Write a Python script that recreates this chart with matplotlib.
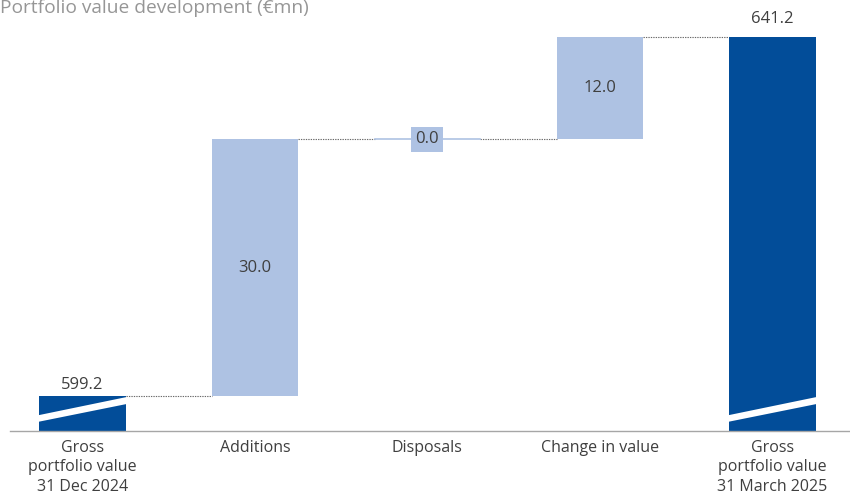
import matplotlib
matplotlib.use("Agg")
import matplotlib.pyplot as plt
from matplotlib.patches import Polygon
import matplotlib.transforms as mtransforms

plt.rcParams['font.family'] = ['Open Sans', 'DejaVu Sans']

categories = ["Gross\nportfolio value\n31 Dec 2024", "Additions", "Disposals",
              "Change in value", "Gross\nportfolio value\n31 March 2025"]
values = [599.2, 30.0, 0.0, 12.0, 641.2]
kinds = ["total", "delta", "delta", "delta", "total"]
labels = ["599.2", "30.0", "0.0", "12.0", "641.2"]
title = "Portfolio value development (€mn)"

DARK = "#024D99"
LIGHT = "#AEC2E3"
TXT = "#3F3F3F"

fig = plt.figure(figsize=(8.5, 4.94), dpi=100)
ax = fig.add_axes([10 / 850, 63 / 494, 840 / 850, 411 / 494])
ymin = 595.1
ax.set_ylim(ymin, ymin + 411 / 8.55)
ax.set_xlim(-0.42, 4.45)

w = 0.5
running = 0.0
tops = []
n = len(values)
for i, (v, k) in enumerate(zip(values, kinds)):
    if k == "total":
        ax.bar(i, v - ymin, bottom=ymin, width=w, color=DARK, zorder=2)
        running = v
        tops.append((running, running))
        off = 10 if i == n - 1 else 5
        ax.annotate(labels[i], (i, v), xytext=(0, off), textcoords="offset points",
                    ha="center", va="baseline", fontsize=12, color=TXT)
    else:
        start = running
        running = running + v
        tops.append((start, running))
        if v == 0:
            ax.plot([i - 0.305, i + 0.305], [start, start], color=LIGHT, lw=1.2, zorder=2)
            ax.text(i, start, labels[i], ha="center", va="center", fontsize=12, color=TXT,
                    bbox=dict(boxstyle="square,pad=0.25", fc=LIGHT, ec="none"), zorder=3)
        else:
            ax.bar(i, v, bottom=start, width=w, color=LIGHT, zorder=2)
            ax.text(i, start + v / 2, labels[i], ha="center", va="center",
                    fontsize=12, color=TXT, zorder=3)

# connectors
for i in range(n - 1):
    level = tops[i][1]
    x0 = i + (0.305 if values[i] == 0 and kinds[i] == "delta" else w / 2)
    x1 = i + 1 - (0.305 if values[i + 1] == 0 and kinds[i + 1] == "delta" else w / 2)
    ax.plot([x0, x1], [level, level], color="#6a6a6a", lw=0.8,
            linestyle=(0, (1.2, 1.0)), zorder=1)

# axis break stripes on total bars
trans = mtransforms.blended_transform_factory(ax.transData, ax.transAxes)
for i, k in enumerate(kinds):
    if k == "total":
        l, r = i - w / 2, i + w / 2
        poly = Polygon([(l - 0.01, 0.022), (l - 0.01, 0.038), (r + 0.01, 0.083), (r + 0.01, 0.066)],
                       closed=True, transform=trans, fc="white", ec="none", zorder=3)
        ax.add_patch(poly)

# baseline
ax.axhline(ymin, color="#A6A6A6", lw=1.0, zorder=4, clip_on=False)

for s in ax.spines.values():
    s.set_visible(False)
ax.set_yticks([])
ax.set_xticks(range(n))
ax.set_xticklabels(categories, fontsize=11.5, color=TXT, linespacing=1.28, va="top")
ax.tick_params(axis="x", length=0, pad=6.5)

fig.text(0 / 850, 1 - 13 / 494, title, ha="left", va="baseline", fontsize=13.8, color="#969696")

fig.savefig("out.png", dpi=100)
